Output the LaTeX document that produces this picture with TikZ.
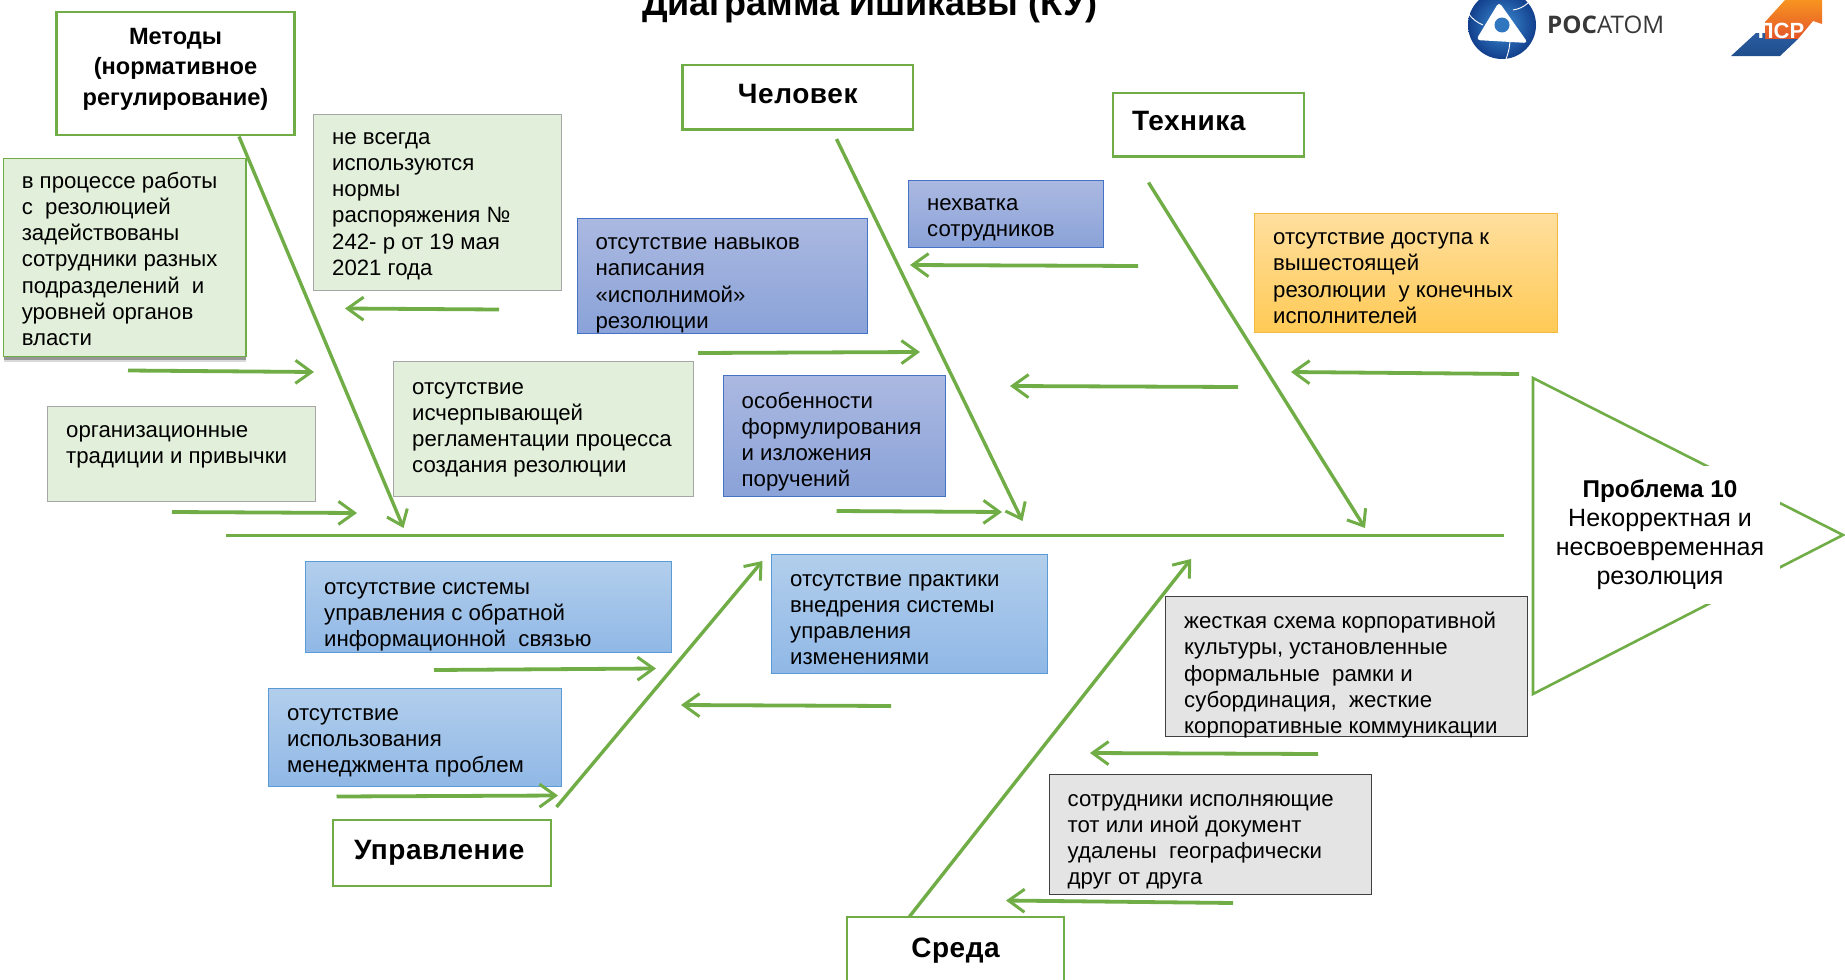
\documentclass[tikz,border=0pt]{standalone}
\usepackage{fontspec}
\setmainfont{Liberation Sans}
\newfontfamily\opensans{Open Sans}
\usetikzlibrary{arrows.meta,shadows}
\definecolor{gr}{HTML}{70AD47}
\definecolor{grfill}{HTML}{E2EFDA}
\definecolor{grayfill}{HTML}{E4E4E4}
\definecolor{violetedge}{HTML}{4472C4}
\definecolor{violettop}{HTML}{ABB9E1}
\definecolor{violetbot}{HTML}{8AA2D8}
\definecolor{blueedge}{HTML}{5B9BD5}
\definecolor{bluetop}{HTML}{B2CEEC}
\definecolor{bluebot}{HTML}{90B8E6}
\definecolor{orangeedge}{HTML}{F4B942}
\definecolor{orangetop}{HTML}{FFDF9F}
\definecolor{orangebot}{HTML}{FFCA55}
\definecolor{atomin}{HTML}{3E8FD6}
\definecolor{atomout}{HTML}{123F8C}
\definecolor{psrtop}{HTML}{F79420}
\definecolor{psrbot}{HTML}{E4542A}
\definecolor{psrblue}{HTML}{1F4E8C}
\definecolor{psrblueb}{HTML}{2A5CA0}
\tikzset{
  txt/.style={font=\fontsize{22.2}{26.2}\selectfont,text=black},
  greenbox/.style={txt,draw=black!35,line width=1.4pt,fill=grfill},
  greenedge/.style={txt,draw=gr,line width=1.6pt,fill=grfill,
    drop shadow={shadow xshift=0.5pt,shadow yshift=-6pt,fill=black,opacity=.15},
    drop shadow={shadow xshift=0.5pt,shadow yshift=-3.5pt,fill=black,opacity=.3}},
  violetbox/.style={txt,draw=violetedge,line width=1.3pt,top color=violettop,bottom color=violetbot},
  bluebox/.style={txt,draw=blueedge,line width=1.3pt,top color=bluetop,bottom color=bluebot},
  orangebox/.style={txt,draw=orangeedge,line width=1.3pt,top color=orangetop,bottom color=orangebot},
  graybox/.style={txt,draw=black!75,line width=1.4pt,fill=grayfill},
  catbox/.style={draw=gr,line width=2.6pt,fill=white,inner sep=0pt,font=\bfseries\fontsize{28}{31}\selectfont\addfontfeature{LetterSpace=2},text=black},
  bone/.style={draw=gr,line width=3.4pt,-{Straight Barb[length=14pt,width=22pt,line width=3pt]}},
  twig/.style={draw=gr,line width=3.8pt,-{Straight Barb[length=16pt,width=23pt,line width=3pt]}},
}
\newcommand{\bx}[8]{%
  \pgfmathsetmacro{\ww}{#5-#3-18.5}\pgfmathsetmacro{\hh}{#6-#4}%
  \node[#2,anchor=north west,inner sep=0pt] (#1) at (#3,#4)
    {\hspace*{18.5pt}\parbox[c][\hh pt][t]{\ww pt}{\raggedright\rule{0pt}{#7pt}#8}};}
\begin{document}
\begin{tikzpicture}[x=1pt,y=-1pt]
\useasboundingbox (0,0) rectangle (1845,980);
\clip (0,0) rectangle (1845,980);
% title
\node[font=\bfseries\fontsize{36}{40}\selectfont,anchor=base,inner sep=0pt] (title) at (870,15) {Диаграмма Ишикавы (КУ)};
% logos
\shade[inner color=atomin,outer color=atomout] (1502,25) circle (34);
\fill[white,rounded corners=4pt] (1499,2) -- (1528,43) -- (1476,40) -- cycle;
\fill[atomin!70!atomout] (1502,25) circle (7.5);
\draw[white,line width=.9pt] (1468,13) to[bend right=15] (1483,25) (1528,3) to[bend left=15] (1513,10) (1510,38) to[bend left=10] (1506,59);
\node[anchor=base west,inner sep=0pt,font=\fontsize{24.2}{26}\selectfont\opensans,text=black!78] (rosatom) at (1547,33) {\textbf{РОС}АТОМ};
\shade[top color=psrtop,bottom color=psrbot] (1765,22) -- (1785,0) -- (1822,0) -- (1822,24) -- (1813,21) -- (1798,39) -- (1765,39) -- cycle;
\shade[top color=psrblueb,bottom color=psrblue] (1731,56) -- (1756,33) -- (1765,33) -- (1765,39) -- (1798,39) -- (1780,56) -- cycle;
\node[font=\bfseries\fontsize{22}{26}\selectfont,text=white,inner sep=0pt] (psr) at (1781,31) {ПСР};
% head
\draw[gr,line width=2.6pt] (1533,378) -- (1843,535) -- (1533,694) -- cycle;
\node[fill=white,minimum width=240pt,minimum height=138pt,inner sep=0pt,align=center,font=\fontsize{25}{29}\selectfont] (head) at (1660,535)
  {{\bfseries\fontsize{24.3}{29}\selectfont Проблема 10}\\Некорректная и\\несвоевременная\\резолюция};
% category boxes
\node[catbox,minimum width=238.5pt,minimum height=123pt,font=\bfseries\fontsize{23.6}{30.5}\selectfont] (metody) at (175.5,73.5) {\begin{tabular}{@{}c@{}}Методы\\(нормативное\\регулирование)\\[10pt]\end{tabular}};
\node[catbox,minimum width=230.5pt,minimum height=64.5pt] (chel) at (797.75,97.25) {\raisebox{7pt}{Человек}};
\node[catbox,minimum width=191pt,minimum height=63.5pt,text width=153pt] (tekh) at (1208.5,124.75) {\raisebox{7pt}{Техника}};
\node[catbox,minimum width=218pt,minimum height=66pt,text width=176pt] (upr) at (442,853) {\raisebox{6pt}{Управление}};
\node[catbox,minimum width=217pt,minimum height=68pt] (sreda) at (955.5,951) {\raisebox{7pt}{Среда}};
% text boxes
\bx{b1}{greenedge}{2.5}{157.5}{245}{355.5}{30}{в процессе работы\\с~ резолюцией\\задействованы\\сотрудники разных\\подразделений~ и\\уровней органов\\власти}
\bx{b2}{greenbox}{313}{114}{561}{289.5}{29.5}{не всегда\\используются\\нормы\\распоряжения №\\242- р от 19 мая\\2021 года}
\bx{b3}{greenbox}{393}{361}{693}{495.5}{32.6}{отсутствие\\исчерпывающей\\регламентации процесса\\создания резолюции}
\bx{b4}{greenbox}{47}{406}{315}{501}{31}{организационные\\традиции и привычки}
\bx{b5}{violetbox}{576.5}{217.5}{867}{333}{31.5}{отсутствие навыков\\написания\\«исполнимой»\\резолюции}
\bx{b6}{violetbox}{908}{180}{1102.5}{247}{30}{нехватка\\сотрудников}
\bx{b7}{violetbox}{722.5}{375}{945}{495.5}{32.7}{особенности\\формулирования\\и изложения\\поручений}
\bx{b8}{bluebox}{305}{561}{671}{652}{32.6}{отсутствие системы\\управления с обратной\\информационной~ связью}
\bx{b9}{bluebox}{771}{554}{1047}{673}{31.4}{отсутствие практики\\внедрения системы\\управления\\изменениями}
\bx{b10}{bluebox}{268}{688}{561}{786}{31.5}{отсутствие\\использования\\менеджмента проблем}
\bx{b11}{orangebox}{1254}{213}{1557}{332}{31}{отсутствие доступа к\\вышестоящей\\резолюции~ у конечных\\исполнителей}
\bx{b12}{graybox}{1165}{596}{1527}{736}{32}{жесткая схема корпоративной\\культуры, установленные\\формальные~ рамки и\\субординация,~ жесткие\\корпоративные коммуникации}
\bx{b13}{graybox}{1048.5}{774}{1371}{894}{31.5}{сотрудники исполняющие\\тот или иной документ\\удалены~ географически\\друг от друга}
% free ends
\coordinate (sp0) at (226,535.5);
\coordinate (sp1) at (1504,535.5);
\coordinate (m1) at (239,136.5);
\coordinate (m2) at (403.5,528);
\coordinate (c1) at (836.5,139);
\coordinate (c2) at (1022.5,521);
\coordinate (t1) at (1148.5,182.5);
\coordinate (t2) at (1365,528);
\coordinate (u1) at (556.5,807);
\coordinate (u2) at (762.5,561);
\coordinate (s1) at (909.5,916.5);
\coordinate (s2) at (1191,559);
% spine and bones
\draw[gr,line width=3.4pt] (sp0) -- (sp1);
\draw[bone] (m1) -- (m2);
\draw[bone] (c1) -- (c2);
\draw[bone] (t1) -- (t2);
\draw[bone] (u1) -- (u2);
\draw[bone] (s1) -- (s2);
% twigs
\foreach \a/\b/\c/\d/\n in {
  499/309.5/345/308.5/1, 128/370.5/314/372/2, 172/512/357/513/3,
  1138/266/910/265/4, 698/353/920/352/5, 1238/387/1010/386/6,
  836.5/511/1002/512/7, 1519/374/1291/372/8, 434/670/656/668.5/9,
  891/706/681/705/10, 336.5/796.5/558/795.5/11, 1318/754/1090/753/12,
  1233/903/1006/900.5/13} {
  \coordinate (tw\n a) at (\a,\b);
  \coordinate (tw\n b) at (\c,\d);
  \draw[twig] (tw\n a) -- (tw\n b);
}
\end{tikzpicture}
\end{document}
